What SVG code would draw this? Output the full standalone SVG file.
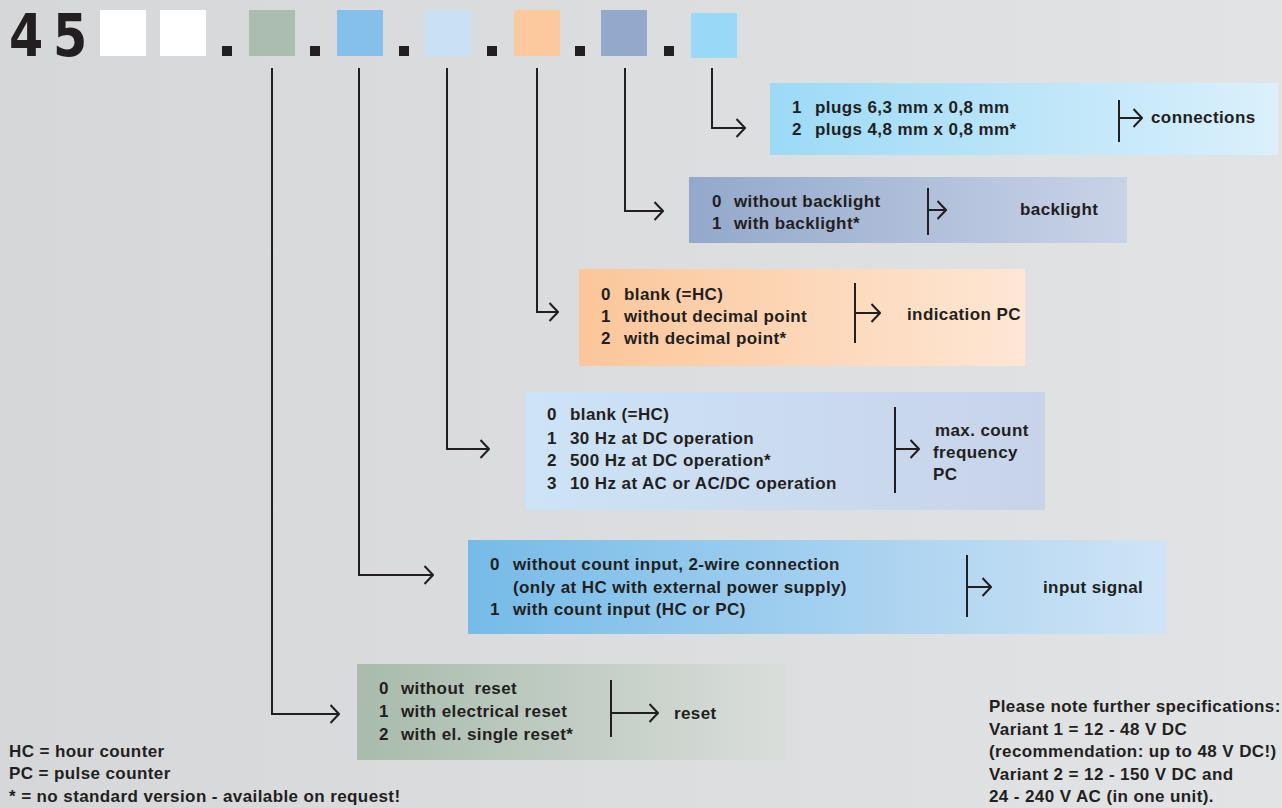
<svg xmlns="http://www.w3.org/2000/svg" width="1282" height="808" viewBox="0 0 1282 808">
<defs>
<linearGradient id="bg" x1="0" y1="0" x2="1" y2="0"><stop offset="0" stop-color="#d5d7d8"/><stop offset="1" stop-color="#e2e3e5"/></linearGradient>
<linearGradient id="gCon" x1="0" y1="0" x2="1" y2="0"><stop offset="0" stop-color="#9cdaf7"/><stop offset="1" stop-color="#dbf0fb"/></linearGradient>
<linearGradient id="gBack" x1="0" y1="0" x2="1" y2="0"><stop offset="0" stop-color="#93a8cb"/><stop offset="1" stop-color="#c9d3e7"/></linearGradient>
<linearGradient id="gInd" x1="0" y1="0" x2="1" y2="0"><stop offset="0" stop-color="#fbc699"/><stop offset="1" stop-color="#fee7d5"/></linearGradient>
<linearGradient id="gMax" x1="0" y1="0" x2="1" y2="0"><stop offset="0" stop-color="#cde3f6"/><stop offset="1" stop-color="#c8d3e9"/></linearGradient>
<linearGradient id="gIn" x1="0" y1="0" x2="1" y2="0"><stop offset="0" stop-color="#76bbe8"/><stop offset="1" stop-color="#cfe4f6"/></linearGradient>
<linearGradient id="gRes" x1="0" y1="0" x2="1" y2="0"><stop offset="0" stop-color="#a8bbac"/><stop offset="1" stop-color="#dadedb"/></linearGradient>
<marker id="arr" viewBox="0 0 10 20" refX="9.5" refY="10" markerWidth="10" markerHeight="20" orient="auto" markerUnits="userSpaceOnUse">
<path d="M1,1 L9.5,10 L1,19" fill="none" stroke="#231f20" stroke-width="2"/>
</marker>
<style>
.t{font-family:"Liberation Sans",Arial,sans-serif;font-weight:bold;font-size:17px;letter-spacing:0.4px;fill:#231f20;white-space:pre}
.ln{fill:none;stroke:#231f20;stroke-width:2}
.dot{fill:#231f20}
.big{font-family:"DejaVu Sans","Liberation Sans",sans-serif;font-weight:bold;font-size:60px;fill:#231f20}
</style>
</defs>
<rect width="1282" height="808" fill="url(#bg)"/>

<g id="header">
<text class="big" transform="translate(9,56) scale(0.82,0.97)">4</text>
<text class="big" transform="translate(53,56) scale(0.82,0.97)">5</text>
<rect x="100" y="10" width="46" height="46" fill="#ffffff"/>
<rect x="160" y="10" width="46" height="46" fill="#ffffff"/>
<rect class="dot" x="222" y="46" width="10" height="10"/>
<rect x="249" y="10" width="46" height="46" fill="#abbcb0"/>
<rect class="dot" x="310" y="46" width="10" height="10"/>
<rect x="337" y="10" width="46" height="46" fill="#85c0ea"/>
<rect class="dot" x="399" y="46" width="10" height="10"/>
<rect x="425" y="10" width="46" height="46" fill="#cae0f3"/>
<rect class="dot" x="487" y="46" width="10" height="10"/>
<rect x="514" y="10" width="46" height="46" fill="#fbc99d"/>
<rect class="dot" x="575" y="46" width="10" height="10"/>
<rect x="601" y="10" width="46" height="46" fill="#93a9cc"/>
<rect class="dot" x="664" y="46" width="10" height="10"/>
<rect x="691" y="13" width="46" height="45" fill="#99d8f6"/>
</g>

<g id="connectors">
<path class="ln" d="M272,68 V714 H339" marker-end="url(#arr)"/>
<path class="ln" d="M359,68 V575 H433" marker-end="url(#arr)"/>
<path class="ln" d="M447,68 V449 H489" marker-end="url(#arr)"/>
<path class="ln" d="M537,68 V312 H558" marker-end="url(#arr)"/>
<path class="ln" d="M625,68 V211 H663" marker-end="url(#arr)"/>
<path class="ln" d="M712,68 V128 H745" marker-end="url(#arr)"/>
</g>

<g id="connections">
<rect x="770" y="83" width="508" height="72" fill="url(#gCon)"/>
<text class="t" y="113"><tspan x="792">1</tspan><tspan x="815">plugs 6,3 mm x 0,8 mm</tspan></text>
<text class="t" y="135"><tspan x="792">2</tspan><tspan x="815">plugs 4,8 mm x 0,8 mm*</tspan></text>
<path class="ln" d="M1119,100 V142 M1119,118 H1142" marker-end="url(#arr)"/>
<text class="t" x="1151" y="123">connections</text>
</g>

<g id="backlight">
<rect x="689" y="177" width="438" height="66" fill="url(#gBack)"/>
<text class="t" y="207"><tspan x="712">0</tspan><tspan x="734">without backlight</tspan></text>
<text class="t" y="229"><tspan x="712">1</tspan><tspan x="734">with backlight*</tspan></text>
<path class="ln" d="M928,188 V235 M928,210 H946" marker-end="url(#arr)"/>
<text class="t" x="1020" y="215">backlight</text>
</g>

<g id="indication">
<rect x="579" y="269" width="446" height="97" fill="url(#gInd)"/>
<text class="t" y="300"><tspan x="601">0</tspan><tspan x="624">blank (=HC)</tspan></text>
<text class="t" y="322"><tspan x="601">1</tspan><tspan x="624">without decimal point</tspan></text>
<text class="t" y="344"><tspan x="601">2</tspan><tspan x="624">with decimal point*</tspan></text>
<path class="ln" d="M855,283 V343 M855,313 H880" marker-end="url(#arr)"/>
<text class="t" x="907" y="320">indication PC</text>
</g>

<g id="maxcount">
<rect x="525" y="392" width="520" height="118" fill="url(#gMax)"/>
<text class="t" y="420"><tspan x="547">0</tspan><tspan x="570">blank (=HC)</tspan></text>
<text class="t" y="444"><tspan x="547">1</tspan><tspan x="570">30 Hz at DC operation</tspan></text>
<text class="t" y="466"><tspan x="547">2</tspan><tspan x="570">500 Hz at DC operation*</tspan></text>
<text class="t" y="489"><tspan x="547">3</tspan><tspan x="570">10 Hz at AC or AC/DC operation</tspan></text>
<path class="ln" d="M895,407 V493 M895,449 H919" marker-end="url(#arr)"/>
<text class="t" x="935" y="436">max. count</text>
<text class="t" x="933" y="458">frequency</text>
<text class="t" x="933" y="480">PC</text>
</g>

<g id="input">
<rect x="468" y="540" width="699" height="94" fill="url(#gIn)"/>
<text class="t" y="570"><tspan x="490">0</tspan><tspan x="513">without count input, 2-wire connection</tspan></text>
<text class="t" x="513" y="593">(only at HC with external power supply)</text>
<text class="t" y="615"><tspan x="490">1</tspan><tspan x="513">with count input (HC or PC)</tspan></text>
<path class="ln" d="M967,555 V617 M967,587 H991" marker-end="url(#arr)"/>
<text class="t" x="1043" y="593">input signal</text>
</g>

<g id="reset">
<rect x="357" y="664" width="430" height="96" fill="url(#gRes)"/>
<text class="t" y="694"><tspan x="379">0</tspan><tspan x="401">without  reset</tspan></text>
<text class="t" y="717"><tspan x="379">1</tspan><tspan x="401">with electrical reset</tspan></text>
<text class="t" y="740"><tspan x="379">2</tspan><tspan x="401">with el. single reset*</tspan></text>
<path class="ln" d="M611,680 V737 M611,713 H658" marker-end="url(#arr)"/>
<text class="t" x="674" y="719">reset</text>
</g>

<g id="legend">
<text class="t" x="9" y="757">HC = hour counter</text>
<text class="t" x="9" y="779">PC = pulse counter</text>
<text class="t" x="9" y="802">* = no standard version - available on request!</text>
</g>

<g id="notes">
<text class="t" x="989" y="712">Please note further specifications:</text>
<text class="t" x="989" y="735">Variant 1 = 12 - 48 V DC</text>
<text class="t" x="989" y="757">(recommendation: up to 48 V DC!)</text>
<text class="t" x="989" y="780">Variant 2 = 12 - 150 V DC and</text>
<text class="t" x="989" y="802">24 - 240 V AC (in one unit).</text>
</g>
</svg>
